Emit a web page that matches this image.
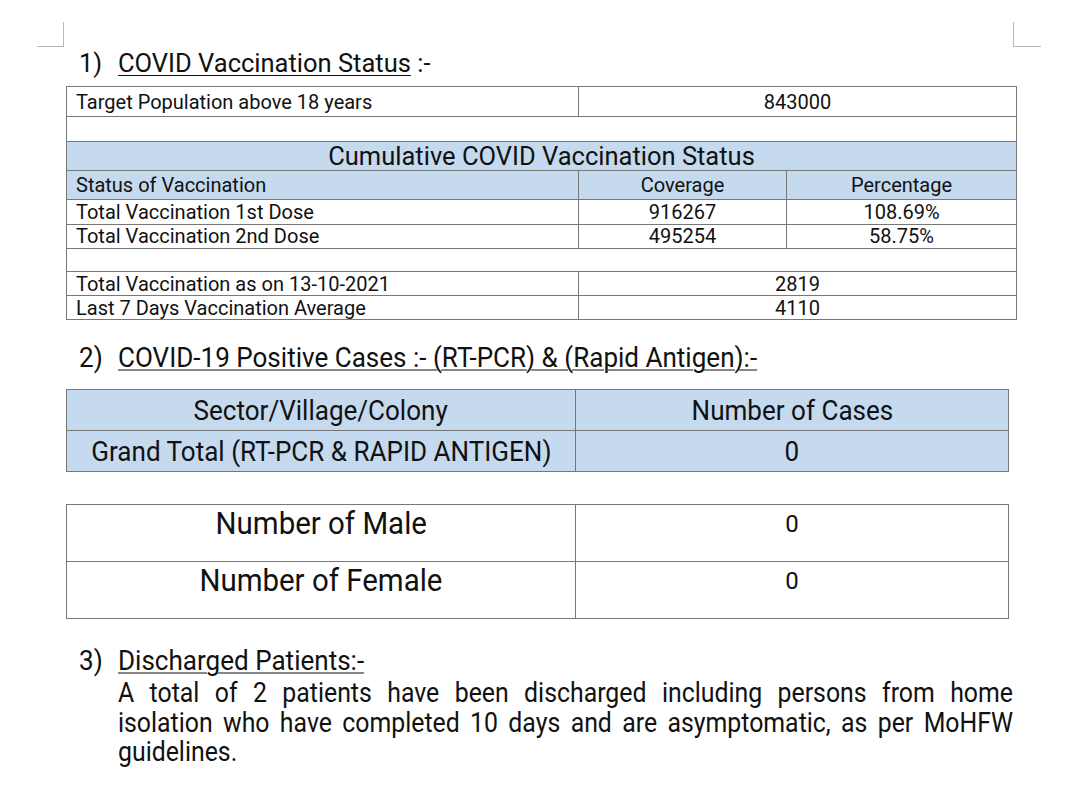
<!DOCTYPE html>
<html>
<head>
<meta charset="utf-8">
<script src="https://cdn.jsdelivr.net/npm/chart.js"></script>
<style>
  body { margin: 0; width: 1080px; height: 804px; background: #fff; position: relative; overflow: hidden; font-family: Roboto, "Noto Sans", sans-serif; color: #111; }
  .abs { position: absolute; white-space: nowrap; }
  .corner { position: absolute; border-color: #b8b8b8; border-style: solid; border-width: 0; }
  u { text-decoration-thickness: 1px; text-underline-offset: 3px; }
  table { position: absolute; border-collapse: collapse; table-layout: fixed; }
  td { border: 1px solid #777; padding: 0; overflow: hidden; white-space: nowrap; }
  .blue { background: #c5d9ef; }
  .t1 td { font-size: 20px; line-height: 20px; }
  .t1 td.l { padding-left: 9px; }
  .c { text-align: center; }
  .cond { display: inline-block; transform-origin: center; }
</style>
</head>
<body>
<div class="corner" style="left:37px;top:22px;width:26px;height:24px;border-right-width:1px;border-bottom-width:1px;"></div>
<div class="corner" style="left:1013px;top:22px;width:27px;height:24px;border-left-width:1px;border-bottom-width:1px;"></div>

<div id="heads"></div>
<table class="t1" id="t1" style="left:66px;top:86px;width:950px;"></table>
<table id="t2" style="left:66px;top:389px;width:942px;"></table>
<table id="t3" style="left:66px;top:504px;width:942px;"></table>
<div id="para"></div>

<script>
// headings
const headings = ['COVID Vaccination Status', 'COVID-19 Positive Cases :- (RT-PCR) & (Rapid Antigen):-', 'Discharged Patients:-'];
const headingTails = [' :-', '', ''];

// section 1 values
const targetLabel = 'Target Population above 18 years';
const targetValue = 843000;
const cumTitle = 'Cumulative COVID Vaccination Status';
const statusCols = ['Status of Vaccination', 'Coverage', 'Percentage'];
const doseLabels = ['Total Vaccination 1st Dose', 'Total Vaccination 2nd Dose'];
const doseCoverage = [916267, 495254];
const dosePercent = ['108.69%', '58.75%'];
const dailyLabels = ['Total Vaccination as on 13-10-2021', 'Last 7 Days Vaccination Average'];
const dailyValues = [2819, 4110];

// section 2 values
const caseCols = ['Sector/Village/Colony', 'Number of Cases'];
const totalLabel = 'Grand Total (RT-PCR & RAPID ANTIGEN)';
const totalCases = 0;
const genderLabels = ['Number of Male', 'Number of Female'];
const genderCases = [0, 0];

// section 3
const dischargedLines = [
  'A total of 2 patients have been discharged including persons from home',
  'isolation who have completed 10 days and are asymptomatic, as per MoHFW',
  'guidelines.'
];

function esc(s) { return String(s).replace(/&/g, '&amp;').replace(/</g, '&lt;'); }

// section headings: number + underlined title
const headTop = [63, 357, 660];
const headSize = [25.5, 28, 28];
const headScale = [1, 0.93, 0.93];
let hh = '';
headings.forEach(function(h, i) {
  hh += '<div class="abs" style="left:79px;top:' + headTop[i] + 'px;transform:translateY(-50%);font-size:' + headSize[i] + 'px;">' +
    '<span class="cond" style="transform:scaleX(' + headScale[i] + ');transform-origin:left center">' + (i + 1) + ')</span></div>';
  hh += '<div class="abs" style="left:118px;top:' + headTop[i] + 'px;transform:translateY(-50%) scaleX(' + headScale[i] + ');transform-origin:left center;font-size:' + headSize[i] + 'px;">' +
    '<u>' + esc(h) + '</u>' + esc(headingTails[i]) + '</div>';
});
document.getElementById('heads').innerHTML = hh;

// table 1
let t1 = '<colgroup><col style="width:512px"><col style="width:208px"><col style="width:230px"></colgroup>';
t1 += '<tr style="height:30px"><td class="l">' + esc(targetLabel) + '</td><td colspan="2" class="c">' + targetValue + '</td></tr>';
t1 += '<tr style="height:25px"><td colspan="3"></td></tr>';
t1 += '<tr style="height:29px" class="blue"><td colspan="3" class="c" style="font-size:25.5px;line-height:26px">' + esc(cumTitle) + '</td></tr>';
t1 += '<tr style="height:29px" class="blue"><td class="l">' + esc(statusCols[0]) + '</td><td class="c">' + statusCols[1] + '</td><td class="c">' + statusCols[2] + '</td></tr>';
doseLabels.forEach(function(lbl, i) {
  t1 += '<tr style="height:24.5px"><td class="l">' + esc(lbl) + '</td><td class="c">' + doseCoverage[i] + '</td><td class="c">' + dosePercent[i] + '</td></tr>';
});
t1 += '<tr style="height:23px"><td colspan="3"></td></tr>';
dailyLabels.forEach(function(lbl, i) {
  t1 += '<tr style="height:24px"><td class="l">' + esc(lbl) + '</td><td colspan="2" class="c">' + dailyValues[i] + '</td></tr>';
});
document.getElementById('t1').innerHTML = t1;

// table 2
const cond = function(s, sc) { return '<span class="cond" style="transform:scaleX(' + sc + ')">' + esc(s) + '</span>'; };
let t2 = '<colgroup><col style="width:509px"><col style="width:433px"></colgroup>';
t2 += '<tr style="height:41px" class="blue"><td class="c" style="font-size:28px">' + cond(caseCols[0], 0.93) + '</td><td class="c" style="font-size:28px">' + cond(caseCols[1], 0.93) + '</td></tr>';
t2 += '<tr style="height:41px" class="blue"><td class="c" style="font-size:28px">' + cond(totalLabel, 0.93) + '</td><td class="c" style="font-size:28px">' + cond(totalCases, 0.93) + '</td></tr>';
document.getElementById('t2').innerHTML = t2;

// table 3
let t3 = '<colgroup><col style="width:509px"><col style="width:433px"></colgroup>';
genderLabels.forEach(function(lbl, i) {
  t3 += '<tr style="height:57px"><td class="c" style="font-size:31px;vertical-align:top;padding-top:0px">' + cond(lbl, 0.95) + '</td><td class="c" style="font-size:24px;vertical-align:top;padding-top:5px">' + genderCases[i] + '</td></tr>';
});
document.getElementById('t3').innerHTML = t3;

// paragraph, justified like the document
const paraScale = 0.92;
let ph = '<div class="abs" style="left:118px;top:679px;font-size:27px;line-height:29.5px;transform:scaleX(' + paraScale + ');transform-origin:left top;">';
dischargedLines.forEach(function(line, i) {
  const last = i === dischargedLines.length - 1;
  ph += '<div style="width:' + (895 / paraScale) + 'px;white-space:normal;text-align:' + (last ? 'left' : 'justify') + ';text-align-last:' + (last ? 'left' : 'justify') + '">' + esc(line) + '</div>';
});
ph += '</div>';
document.getElementById('para').innerHTML = ph;
</script>
</body>
</html>
